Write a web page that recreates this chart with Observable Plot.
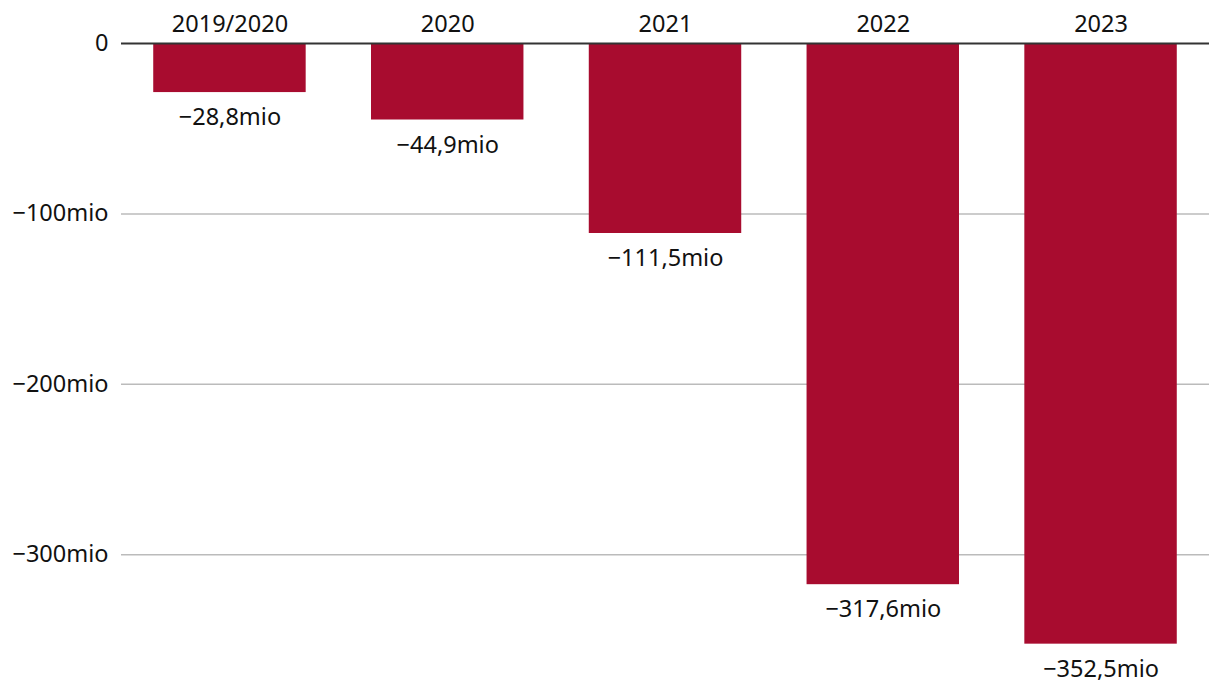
<!DOCTYPE html>
<html>
<head>
<meta charset="utf-8">
<script src="https://cdn.jsdelivr.net/npm/d3@7"></script>
<script src="https://cdn.jsdelivr.net/npm/@observablehq/plot@0.6"></script>
<style>
  html, body { margin: 0; padding: 0; background: #fff; }
  #chart svg { display: block; }
</style>
</head>
<body>
<div id="chart"></div>
<script>
const years = ["2019/2020", "2020", "2021", "2022", "2023"];
const values = [-28.8, -44.9, -111.5, -317.6, -352.5];
const yTicks = [0, -100, -200, -300];

const data = years.map((year, i) => ({year, value: values[i]}));

const fmtVal = v => (v < 0 ? "\u2212" : "") + Math.abs(v).toFixed(1).replace(".", ",") + "mio";
const fmtTick = v => v === 0 ? "0" : (v < 0 ? "\u2212" : "") + Math.abs(v) + "mio";

const chart = Plot.plot({
  width: 1220,
  height: 694,
  marginTop: 43,
  marginBottom: 12,
  marginLeft: 121,
  marginRight: 11,
  style: {fontFamily: "'Noto Sans', 'Open Sans', sans-serif", fontSize: "23.5px", color: "#111", background: "#fff"},
  x: {domain: years, paddingInner: 0.3, paddingOuter: 0.148, round: false, label: null},
  y: {domain: [-375, 0], label: null},
  marks: [
    Plot.gridY(yTicks.filter(d => d !== 0), {stroke: "#bbb", strokeOpacity: 1, strokeWidth: 1.5}),
    Plot.barY(data, {x: "year", y: "value", fill: "#a80c2f"}),
    Plot.ruleY([0], {stroke: "#333", strokeWidth: 2}),
    Plot.text(data, {x: "year", y: "value", text: d => fmtVal(d.value), dy: 25, fontSize: 23.5, fill: "#111"}),
    Plot.axisX({anchor: "top", tickSize: 0, tickPadding: 12, fontSize: 23.5, label: null}),
    Plot.axisY(yTicks, {tickSize: 0, tickPadding: 13, tickFormat: fmtTick, fontSize: 23.5, label: null})
  ]
});
document.getElementById("chart").appendChild(chart);
</script>
</body>
</html>
